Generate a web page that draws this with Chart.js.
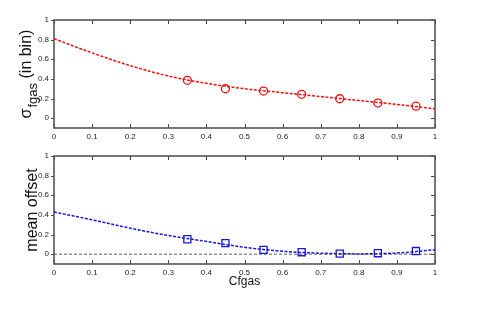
<!DOCTYPE html>
<html>
<head>
<meta charset="utf-8">
<script src="https://cdn.jsdelivr.net/npm/chart.js"></script>
<style>
  html, body { margin: 0; padding: 0; background: #fff; }
  #wrap { position: relative; width: 491px; height: 316px; }
  canvas { position: absolute; left: 0; }
</style>
</head>
<body>
<div id="wrap">
  <canvas id="topChart" width="491" height="146" style="top:0px"></canvas>
  <canvas id="bottomChart" width="491" height="170" style="top:146px"></canvas>
</div>

<script>
    // values
    const xTicks = [0, 0.1, 0.2, 0.3, 0.4, 0.5, 0.6, 0.7, 0.8, 0.9, 1];
    const yTicks = [0, 0.2, 0.4, 0.6, 0.8, 1];

    const markerX = [0.35, 0.45, 0.55, 0.65, 0.75, 0.85, 0.95];
    const sigmaPts = [0.386, 0.300, 0.276, 0.243, 0.198, 0.154, 0.122];
    const offsetPts = [0.152, 0.112, 0.044, 0.020, 0.006, 0.010, 0.032];

    const fitX = [0, 0.1, 0.2, 0.3, 0.4, 0.5, 0.6, 0.7, 0.8, 0.9, 1];
    const sigmaFit = [0.81, 0.665, 0.535, 0.43, 0.355, 0.30, 0.26, 0.22, 0.18, 0.14, 0.095];
    const offsetFit = [0.43, 0.35, 0.265, 0.19, 0.13, 0.07, 0.03, 0.01, 0.003, 0.012, 0.045];

    const zeroLine = [0, 0];
    const zeroX = [0, 1];

    const RED = '#f01010';
    const BLUE = '#1818d8';
    const TICK_FONT = '"Liberation Sans Narrow", "Liberation Sans", Arial, sans-serif';

    function pairs(xs, ys) {
        return xs.map((x, i) => ({ x: x, y: ys[i] }));
    }

    // MATLAB-style box with small ticks
    const boxTicks = {
        id: 'boxTicks',
        beforeDatasetsDraw(chart) {
            const { ctx, chartArea: a, scales } = chart;
            const x = scales.x, y = scales.y;
            ctx.save();
            ctx.strokeStyle = '#444';
            ctx.lineWidth = 1;
            ctx.beginPath();
            xTicks.forEach(v => {
                const px = Math.round(x.getPixelForValue(v)) + 0.5;
                ctx.moveTo(px, a.top); ctx.lineTo(px, a.top + 4);
                ctx.moveTo(px, a.bottom); ctx.lineTo(px, a.bottom - 4);
            });
            yTicks.forEach(v => {
                const py = Math.round(y.getPixelForValue(v)) + 0.5;
                ctx.moveTo(a.left - 3, py); ctx.lineTo(a.left, py);
                ctx.moveTo(a.right, py); ctx.lineTo(a.right - 4, py);
            });
            ctx.stroke();
            ctx.lineWidth = 1.6;
            ctx.strokeStyle = '#555';
            ctx.strokeRect(a.left, a.top, a.right - a.left, a.bottom - a.top);
            ctx.restore();
        }
    };

    function yTitle(drawFn) {
        return {
            id: 'yTitle',
            afterDraw(chart) {
                const ctx = chart.ctx;
                ctx.save();
                drawFn(ctx, chart.chartArea);
                ctx.restore();
            }
        };
    }

    function baseOptions(bottomHeight, bottomPad, showXTitle) {
        return {
            responsive: false,
            animation: false,
            events: [],
            layout: { padding: { top: 10, right: 56, left: 0, bottom: bottomPad } },
            plugins: { legend: { display: false }, tooltip: { enabled: false } },
            scales: {
                x: {
                    type: 'linear',
                    min: 0,
                    max: 1,
                    afterBuildTicks: s => { s.ticks = xTicks.map(v => ({ value: v })); },
                    afterFit: s => { s.height = bottomHeight; },
                    grid: { display: false, drawTicks: false },
                    border: { display: false },
                    ticks: {
                        padding: 4,
                        maxRotation: 0,
                        autoSkip: false,
                        color: '#222',
                        font: { family: TICK_FONT, size: 8 },
                        callback: v => String(v)
                    },
                    title: {
                        display: showXTitle,
                        text: 'Cfgas',
                        color: '#111',
                        padding: { top: 0, bottom: 0 },
                        font: { family: 'Liberation Sans', size: 12 }
                    }
                },
                y: {
                    type: 'linear',
                    min: -0.1,
                    max: 1,
                    afterBuildTicks: s => { s.ticks = yTicks.map(v => ({ value: v })); },
                    afterFit: s => { s.width = 54; },
                    grid: { display: false, drawTicks: false },
                    border: { display: false },
                    ticks: {
                        padding: 5,
                        color: '#222',
                        font: { family: TICK_FONT, size: 8 },
                        callback: v => String(v)
                    }
                }
            }
        };
    }

    // top panel: sigma
    const topOpts = baseOptions(18, 0, false);
    topOpts.layout.padding.top = 20;
    new Chart(document.getElementById('topChart'), {
        type: 'scatter',
        data: {
            datasets: [{
                data: pairs(fitX, sigmaFit),
                showLine: true,
                borderColor: RED,
                borderWidth: 1.5,
                borderDash: [3, 1.5],
                pointRadius: 0,
                tension: 0.4,
                cubicInterpolationMode: 'monotone'
            }, {
                data: pairs(markerX, sigmaPts),
                showLine: false,
                pointStyle: 'circle',
                pointRadius: 4,
                borderWidth: 1.3,
                borderColor: RED,
                backgroundColor: 'rgba(0,0,0,0)'
            }]
        },
        options: topOpts,
        plugins: [boxTicks, yTitle((ctx, a) => {
            ctx.translate(31, (a.top + a.bottom) / 2);
            ctx.rotate(-Math.PI / 2);
            ctx.fillStyle = '#111';
            ctx.textBaseline = 'alphabetic';
            const big = '16px "Liberation Sans"', small = '13px "Liberation Sans"';
            const s1 = 'σ', s2 = 'fgas', s3 = ' (in bin)';
            ctx.font = big;
            const w1 = ctx.measureText(s1).width + 1;
            const w3 = ctx.measureText(s3).width;
            ctx.font = small;
            const w2 = ctx.measureText(s2).width;
            const x0 = -(w1 + w2 + w3) / 2;
            ctx.font = big;
            ctx.fillText(s1, x0, 0);
            ctx.font = small;
            ctx.fillText(s2, x0 + w1, 6);
            ctx.font = big;
            ctx.fillText(s3, x0 + w1 + w2, 0);
        })]
    });

    // bottom panel: mean offset
    const botOpts = baseOptions(25, 27, true);
    botOpts.layout.padding.top = 10;
    new Chart(document.getElementById('bottomChart'), {
        type: 'scatter',
        data: {
            datasets: [{
                data: pairs(zeroX, zeroLine),
                showLine: true,
                borderColor: '#333',
                borderWidth: 0.8,
                borderDash: [3, 2],
                pointRadius: 0
            }, {
                data: pairs(fitX, offsetFit),
                showLine: true,
                borderColor: BLUE,
                borderWidth: 1.5,
                borderDash: [3, 1.5],
                pointRadius: 0,
                tension: 0.4,
                cubicInterpolationMode: 'monotone'
            }, {
                data: pairs(markerX, offsetPts),
                showLine: false,
                pointStyle: 'rect',
                pointRadius: 5,
                borderWidth: 1.3,
                borderColor: BLUE,
                backgroundColor: 'rgba(0,0,0,0)'
            }]
        },
        options: botOpts,
        plugins: [boxTicks, yTitle((ctx, a) => {
            ctx.translate(37, (a.top + a.bottom) / 2);
            ctx.rotate(-Math.PI / 2);
            ctx.fillStyle = '#111';
            ctx.textAlign = 'center';
            ctx.textBaseline = 'alphabetic';
            ctx.font = '16px "Liberation Sans"';
            ctx.fillText('mean offset', 0, 0);
        })]
    });
</script>
</body>
</html>
